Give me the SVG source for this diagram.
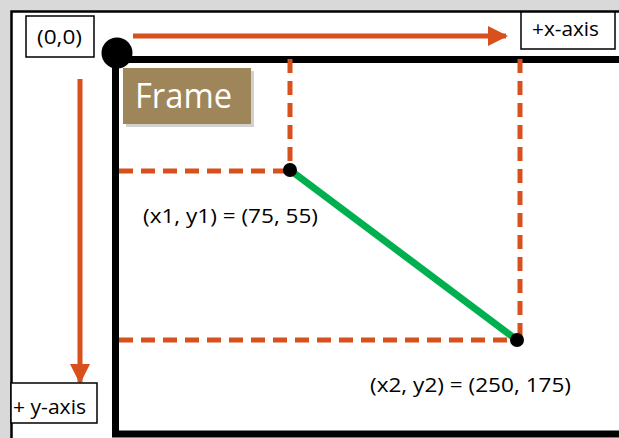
<svg xmlns="http://www.w3.org/2000/svg" width="619" height="438" viewBox="0 0 619 438">
  <defs>
    <style>
      .box { fill: #ffffff; stroke: #000000; stroke-width: 1.5; }
      .lbl { font-family: "Open Sans", "Liberation Sans", sans-serif; fill: #000000; }
      .axis { stroke: #d8501c; stroke-width: 5; fill: none; }
      .dash { stroke: #d8501c; stroke-width: 5; fill: none; stroke-dasharray: 14 8; }
      .frame { stroke: #000000; stroke-width: 7; fill: none; }
    </style>
    <marker id="arr" viewBox="0 0 10 10" refX="9" refY="5" markerWidth="4" markerHeight="4" markerUnits="strokeWidth" orient="auto">
      <path d="M0,0 L10,5 L0,10 z" fill="#d8501c"/>
    </marker>
  </defs>
  <rect x="0" y="0" width="619" height="438" fill="#d9d9d9"/>
  <rect x="11.5" y="11.5" width="620" height="440" fill="#ffffff" stroke="#000000" stroke-width="2.5"/>

  <g id="frame">
    <path class="frame" d="M619,59.5 L115.5,59.5 L115.5,434 L619,434"/>
    <circle cx="117" cy="53" r="15.5" fill="#000000"/>
  </g>

  <g id="connectors">
    <line class="axis" x1="133" y1="36" x2="506" y2="36" marker-end="url(#arr)"/>
    <line class="axis" x1="80" y1="79" x2="80" y2="382" marker-end="url(#arr)"/>
    <line class="dash" x1="290" y1="59" x2="290" y2="170"/>
    <line class="dash" x1="119" y1="171" x2="290" y2="171"/>
    <line class="dash" x1="520" y1="59" x2="520" y2="340"/>
    <line class="dash" x1="119" y1="340" x2="518" y2="340"/>
    <line x1="290" y1="170" x2="517" y2="340" stroke="#00b050" stroke-width="7"/>
  </g>

  <g id="origin">
    <rect class="box" x="26" y="16" width="68" height="41"/>
    <text class="lbl" x="37" y="44" font-size="20" textLength="45" lengthAdjust="spacingAndGlyphs">(0,0)</text>
  </g>

  <g id="x-axis-label">
    <rect class="box" x="521" y="12" width="94" height="37"/>
    <text class="lbl" x="532" y="36" font-size="20" textLength="67" lengthAdjust="spacingAndGlyphs">+x-axis</text>
  </g>

  <g id="y-axis-label">
    <rect class="box" x="11" y="383" width="86" height="40"/>
    <text class="lbl" x="13" y="414" font-size="20" textLength="73" lengthAdjust="spacingAndGlyphs">+ y-axis</text>
  </g>

  <g id="frame-label">
    <rect x="126" y="71" width="128" height="56" fill="#000000" opacity="0.18"/>
    <rect x="123" y="68" width="128" height="56" fill="#9e855a"/>
    <text x="135" y="108" font-family="Open Sans, Liberation Sans, sans-serif" font-size="35" fill="#ffffff" textLength="97" lengthAdjust="spacingAndGlyphs">Frame</text>
  </g>

  <g id="point1">
    <circle cx="290" cy="170" r="7" fill="#000000"/>
    <text class="lbl" x="143" y="223" font-size="20" textLength="175" lengthAdjust="spacingAndGlyphs">(x1, y1) = (75, 55)</text>
  </g>

  <g id="point2">
    <circle cx="517" cy="340" r="7" fill="#000000"/>
    <text class="lbl" x="370" y="392" font-size="20" textLength="201" lengthAdjust="spacingAndGlyphs">(x2, y2) = (250, 175)</text>
  </g>
</svg>
